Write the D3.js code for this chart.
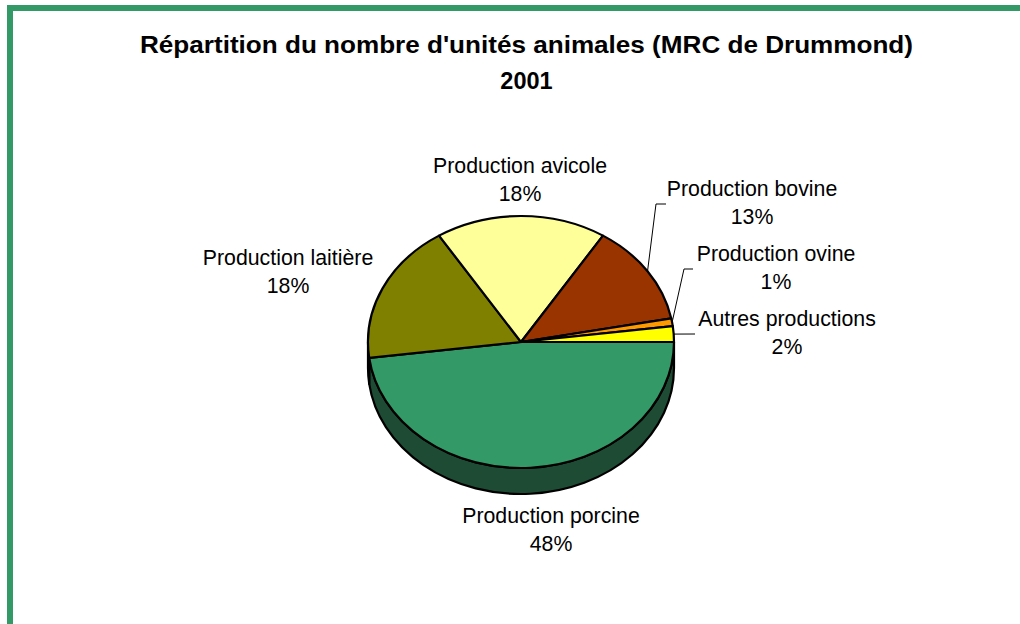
<!DOCTYPE html>
<html>
<head>
<meta charset="utf-8">
<script src="https://cdn.jsdelivr.net/npm/d3@7"></script>
<style>
  html, body { margin: 0; padding: 0; background: #fff; }
  svg { display: block; font-family: Arial, "Liberation Sans", sans-serif; }
</style>
</head>
<body>
<svg id="chart" width="1020" height="624"></svg>
<script>
// data, clockwise from 3 o'clock
const categories = ['Production porcine', 'Production laitière', 'Production avicole',
  'Production bovine', 'Production ovine', 'Autres productions'];
const shares = [48, 18, 18, 13, 1, 2];
const colors = ['#339966', '#808000', '#ffff99', '#993300', '#ff9900', '#ffff00'];
const sideColors = ['#1d4b34', '#404000', '#80804c', '#4d1a00', '#804c00', '#808000'];

const W = 1020, H = 624;
const CX = 521, CY = 342, RX = 153, RY = 126, DEPTH = 26;

// label placement (center x, first baseline) and leader elbow if any
const labelPos = [
  { x: 551, y: 523 },
  { x: 288, y: 265 },
  { x: 520, y: 173 },
  { x: 752, y: 196, elbow: [656, 204, 666] },
  { x: 776, y: 261, elbow: [684, 269, 693] },
  { x: 787, y: 326, elbow: [695, 334, 695] }
];

const svg = d3.select('#chart');

svg.append('rect')
  .attr('x', 10).attr('y', 8)
  .attr('width', W + 20).attr('height', H + 20)
  .attr('fill', 'none')
  .attr('stroke', '#339966')
  .attr('stroke-width', 6);

const title = svg.append('text')
  .attr('text-anchor', 'middle')
  .attr('font-weight', 'bold')
  .attr('font-size', 23.5);
title.append('tspan').attr('x', 526.5).attr('y', 53)
  .attr('textLength', 773)
  .attr('lengthAdjust', 'spacingAndGlyphs')
  .text("Répartition du nombre d'unités animales (MRC de Drummond)");
title.append('tspan').attr('x', 526.5).attr('y', 89).text('2001');

const pie = d3.pie().sort(null)
  .startAngle(Math.PI / 2).endAngle(Math.PI / 2 + 2 * Math.PI)
  .value(d => d);
const arcs = pie(shares);

// screen angle (clockwise from 3 o'clock)
const scr = a => a - Math.PI / 2;

const g = svg.append('g')
  .attr('transform', `translate(${CX},${CY}) scale(1,${RY / RX})`);
const D = DEPTH * RX / RY;

// sides (front half only)
arcs.forEach((a, i) => {
  let s = Math.max(0, scr(a.startAngle));
  let e = Math.min(Math.PI, scr(a.endAngle));
  if (e <= s) return;
  const p = d3.path();
  p.moveTo(RX * Math.cos(s), RX * Math.sin(s));
  p.arc(0, 0, RX, s, e);
  p.lineTo(RX * Math.cos(e), RX * Math.sin(e) + D);
  p.arc(0, D, RX, e, s, true);
  p.closePath();
  g.append('path')
    .attr('d', p.toString())
    .attr('fill', sideColors[i])
    .attr('stroke', '#000')
    .attr('stroke-width', 2.2)
    .attr('stroke-linejoin', 'round')
    .attr('vector-effect', 'non-scaling-stroke');
});

const arc = d3.arc().innerRadius(0).outerRadius(RX);
g.selectAll('path.top')
  .data(arcs)
  .join('path')
  .attr('class', 'top')
  .attr('d', arc)
  .attr('fill', (d, i) => colors[i])
  .attr('stroke', '#000')
  .attr('stroke-width', 2.2)
  .attr('stroke-linejoin', 'round')
  .attr('vector-effect', 'non-scaling-stroke');

// labels
arcs.forEach((a, i) => {
  const lp = labelPos[i];
  if (lp.elbow) {
    const m = scr((a.startAngle + a.endAngle) / 2);
    const px = CX + RX * Math.cos(m), py = CY + RY * Math.sin(m);
    svg.append('path')
      .attr('d', d3.line()([[px, py], [lp.elbow[0], lp.elbow[1]], [lp.elbow[2], lp.elbow[1]]]))
      .attr('fill', 'none')
      .attr('stroke', '#000')
      .attr('stroke-width', 1);
  }
  const t = svg.append('text')
    .attr('text-anchor', 'middle')
    .attr('font-size', 21.3)
    .attr('fill', '#000');
  t.append('tspan').attr('x', lp.x).attr('y', lp.y).text(categories[i]);
  t.append('tspan').attr('x', lp.x).attr('y', lp.y + 27.5).text(shares[i] + '%');
});
</script>
</body>
</html>
